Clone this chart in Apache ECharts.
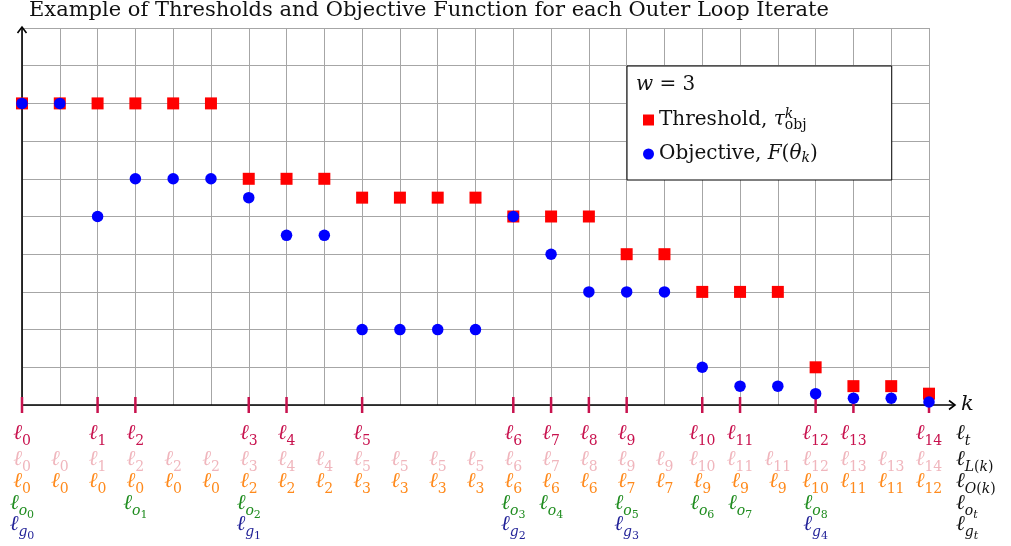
<!DOCTYPE html>
<html><head><meta charset="utf-8">
<script src="https://cdn.jsdelivr.net/npm/echarts@6/dist/echarts.min.js"></script>
<style>html,body{margin:0;padding:0;background:#fff}#c{width:1011px;height:546px}</style>
</head><body><div id="c"></div>
<script>
const kValues = [0,1,2,3,4,5,6,7,8,9,10,11,12,13,14,15,16,17,18,19,20,21,22,23,24];
const threshold = [8,8,8,8,8,8,6,6,6,5.5,5.5,5.5,5.5,5,5,5,4,4,3,3,3,1,0.5,0.5,0.3];
const objective = [8,8,5,6,6,6,5.5,4.5,4.5,2,2,2,2,5,4,3,3,3,1,0.5,0.5,0.3,0.18,0.18,0.08];
const ltLabels = ['0','','1','2','','','3','4','','5','','','','6','7','8','9','','10','11','','12','13','','14'];
const lLLabels = ['0','0','1','2','2','2','3','4','4','5','5','5','5','6','7','8','9','9','10','11','11','12','13','13','14'];
const lOLabels = ['0','0','0','0','0','0','2','2','2','3','3','3','3','6','6','6','7','7','9','9','9','10','11','11','12'];
const loLabels = ['0','','','1','','','2','','','','','','','3','4','','5','','6','7','','8','','',''];
const lgLabels = ['0','','','','','','1','','','','','','','2','','','3','','','','','4','','',''];
const rowNames = ['{m|ℓ}{si|t}', '{m|ℓ}{si|L}{s|(}{si|k}{s|)}', '{m|ℓ}{si|O}{s|(}{si|k}{s|)}', '{m|ℓ}{si|o}{ssi|t}', '{m|ℓ}{si|g}{ssi|t}'];
const titleText = 'Example of Thresholds and Objective Function for each Outer Loop Iterate';

const SERIF = "'DejaVu Serif',serif";
const C_T = '#c8124e', C_L = '#f0b6bd', C_O = '#ff8a1c', C_o = '#1f8c1f', C_g = '#1f1f96';
const rowOffsets = [29, 55, 77, 99, 120];

const rich = {
  m: {fontFamily: SERIF, fontStyle: 'italic', fontSize: 21, lineHeight: 22, verticalAlign: 'top'},
  s: {fontFamily: SERIF, fontSize: 14, lineHeight: 14, padding: [11,0,0,0], verticalAlign: 'top'},
  si: {fontFamily: SERIF, fontStyle: 'italic', fontSize: 14, lineHeight: 14, padding: [11,0,0,0], verticalAlign: 'top'},
  ss: {fontFamily: SERIF, fontSize: 11, lineHeight: 11, padding: [17,0,0,0], verticalAlign: 'top'},
  ssi: {fontFamily: SERIF, fontStyle: 'italic', fontSize: 11, lineHeight: 11, padding: [17,0,0,0], verticalAlign: 'top'}
};

function labelSeries(name, arr, color, off, fmt) {
  return {
    name: name, type: 'scatter', silent: true, clip: false, symbolSize: 0,
    itemStyle: {color: 'rgba(0,0,0,0)', opacity: 1}, z: 5,
    data: kValues.filter(k => arr[k] !== '').map(k => [k, 0, arr[k]]),
    label: {show: true, position: 'inside', offset: [0, off], color: color,
      align: 'center', verticalAlign: 'middle',
      formatter: p => fmt(p.data[2]), rich: rich}
  };
}
const simple = v => '{m|ℓ}{s|' + v + '}';
const dbl = letter => v => '{m|ℓ}{si|' + letter + '}{ss|' + v + '}';

const chart = echarts.init(document.getElementById('c'), null, {renderer: 'canvas'});
const gridLine = {show: true, lineStyle: {color: '#a6a6a6', width: 1}};
chart.setOption({
  animation: false,
  backgroundColor: '#fff',
  title: {text: titleText, left: 24, top: -5,
    textStyle: {fontFamily: SERIF, fontWeight: 'normal', fontSize: 21, color: '#111'}},
  grid: {left: 22, right: 82, top: 28, bottom: 141},
  xAxis: {type: 'value', min: 0, max: 24, interval: 1,
    axisLine: {show: false}, axisTick: {show: false}, axisLabel: {show: false}, splitLine: gridLine},
  yAxis: {type: 'value', min: 0, max: 10, interval: 1,
    axisLine: {show: false}, axisTick: {show: false}, axisLabel: {show: false}, splitLine: gridLine},
  legend: {
    orient: 'vertical', left: 627, top: 66,
    padding: [41, 74, 14, 16], itemGap: 10, itemWidth: 11, itemHeight: 11,
    backgroundColor: '#fff', borderColor: '#000', borderWidth: 1, borderRadius: 0,
    data: [{name: 'Threshold', icon: 'rect'}, {name: 'Objective', icon: 'circle'}],
    selectedMode: false,
    formatter: n => n === 'Threshold'
      ? 'Threshold, {mi|τ}{sup|k}{sub|obj}'
      : 'Objective, {mi|F}({mi|θ}{subi|k})',
    textStyle: {fontFamily: SERIF, fontSize: 20, color: '#111', lineHeight: 24,
      rich: {
        mi: {fontFamily: SERIF, fontStyle: 'italic', fontSize: 20, color: '#111'},
        sup: {fontFamily: SERIF, fontStyle: 'italic', fontSize: 14, color: '#111', width: 0, padding: [0,0,12,0]},
        sub: {fontFamily: SERIF, fontSize: 14, color: '#111', padding: [10,0,0,0]},
        subi: {fontFamily: SERIF, fontStyle: 'italic', fontSize: 14, color: '#111', padding: [8,0,0,0]}
      }}
  },
  series: [
    {name: 'ticks', type: 'scatter', silent: true, clip: false, symbol: 'rect', symbolSize: [2.5, 16],
      itemStyle: {color: C_T, opacity: 1}, z: 2,
      data: kValues.filter(k => ltLabels[k] !== '').map(k => [k, 0])},
    {name: 'Threshold', type: 'scatter', symbol: 'rect', symbolSize: 12, clip: false,
      itemStyle: {color: '#ff0000', opacity: 1}, z: 3, data: kValues.map(k => [k, threshold[k]])},
    {name: 'Objective', type: 'scatter', symbol: 'circle', symbolSize: 11.5, clip: false,
      itemStyle: {color: '#0000ff', opacity: 1}, z: 4, data: kValues.map(k => [k, objective[k]])},
    labelSeries('lt', ltLabels, C_T, rowOffsets[0], simple),
    labelSeries('lL', lLLabels, C_L, rowOffsets[1], simple),
    labelSeries('lO', lOLabels, C_O, rowOffsets[2], simple),
    labelSeries('lo', loLabels, C_o, rowOffsets[3], dbl('o')),
    labelSeries('lg', lgLabels, C_g, rowOffsets[4], dbl('g'))
  ]
});

const o = chart.convertToPixel({gridIndex: 0}, [0, 0]);
const e = chart.convertToPixel({gridIndex: 0}, [24, 10]);
const xEnd = e[0] + 26, yEnd = e[1] - 1;
const axStyle = {stroke: '#000', lineWidth: 1.6, fill: null};
const graphics = [
  {type: 'line', z: 1, shape: {x1: o[0], y1: o[1], x2: xEnd, y2: o[1]}, style: axStyle},
  {type: 'polyline', z: 1, shape: {points: [[xEnd - 6, o[1] - 4.5], [xEnd, o[1]], [xEnd - 6, o[1] + 4.5]]}, style: axStyle},
  {type: 'line', z: 1, shape: {x1: o[0], y1: o[1], x2: o[0], y2: yEnd}, style: axStyle},
  {type: 'polyline', z: 1, shape: {points: [[o[0] - 4.5, yEnd + 6], [o[0], yEnd], [o[0] + 4.5, yEnd + 6]]}, style: axStyle},
  {type: 'text', z: 10, x: xEnd + 6, y: o[1], style: {text: 'k', fontFamily: SERIF, fontStyle: 'italic', fontSize: 21, fill: '#111', verticalAlign: 'middle'}},
  {type: 'text', z: 10, x: 636, y: 75, style: {text: '{mi|w} = 3', fontFamily: SERIF, fontSize: 20, fill: '#111',
    rich: {mi: {fontFamily: SERIF, fontStyle: 'italic', fontSize: 20}}}}
];
rowNames.forEach((t, i) => {
  graphics.push({type: 'text', z: 10, x: e[0] + 27, y: o[1] + rowOffsets[i],
    style: {text: t, fill: '#111', verticalAlign: 'middle', rich: rich}});
});
chart.setOption({graphic: graphics});
</script>
</body></html>
